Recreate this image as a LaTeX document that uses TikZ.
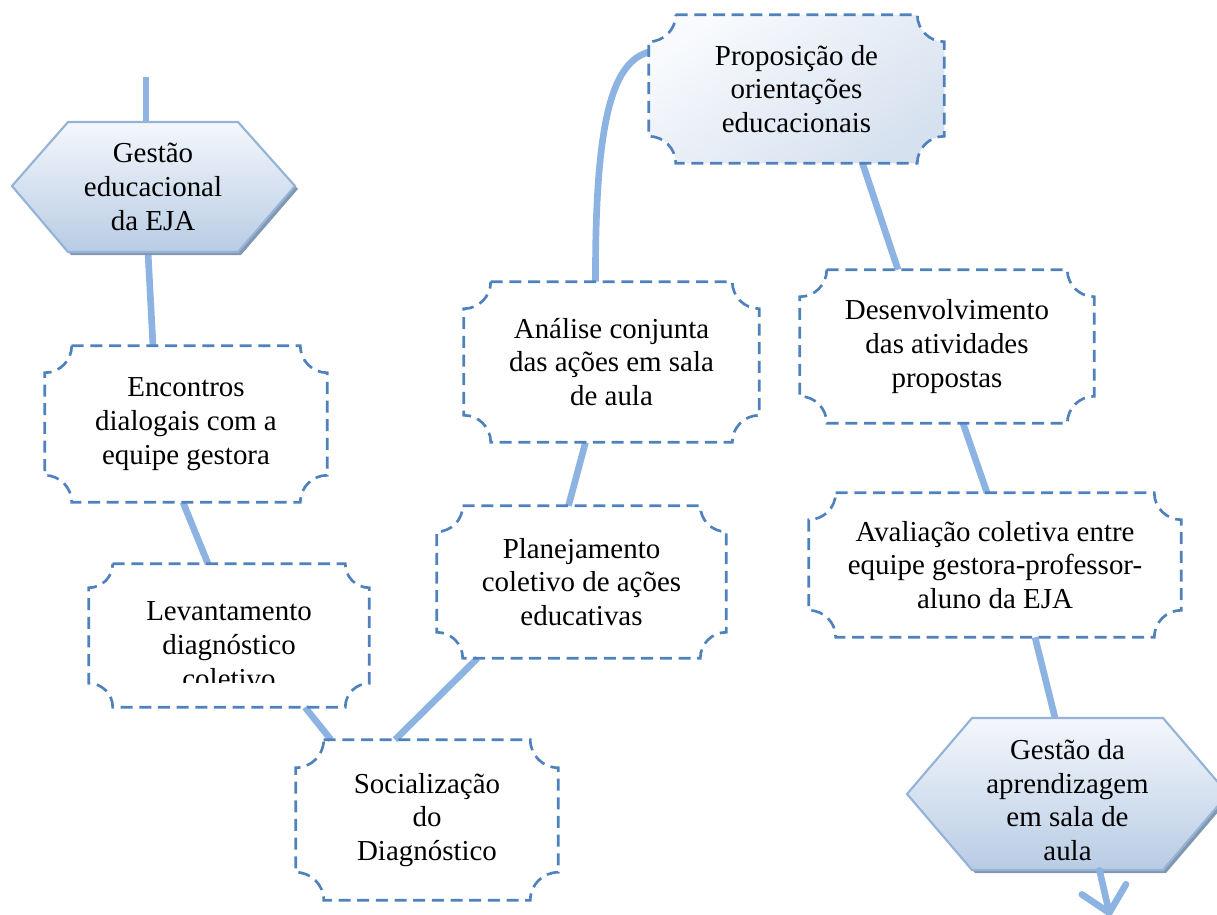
\documentclass[tikz,border=0pt]{standalone}
\usepackage{fontspec}
\setmainfont{Liberation Serif}
\usetikzlibrary{calc,arrows.meta}
\pgfdeclarelayer{background}
\pgfsetlayers{background,main}
\definecolor{dashblue}{HTML}{4F81BD}
\definecolor{conn}{HTML}{8DB3E2}
\definecolor{hexborder}{HTML}{95B3D7}
\definecolor{hextop}{HTML}{F4F7FC}
\definecolor{hexbot}{HTML}{B8CCE4}
\definecolor{hexshadow}{HTML}{8497B0}
\definecolor{proptop}{HTML}{F8FAFD}
\definecolor{propbot}{HTML}{D6E1EF}
\tikzset{
  txt/.style={align=center, text=black, font={\fontsize{21.7pt}{25.3pt}\selectfont}, inner sep=0pt},
  boxnode/.style={txt, rectangle, draw=none},
  plaqueline/.style={draw=dashblue, line width=2pt, dash pattern=on 9pt off 5pt},
  connector/.style={draw=conn, line width=5pt},
  hexline/.style={draw=hexborder, line width=1.6pt, top color=hextop, bottom color=hexbot},
  hexshad/.style={fill=hexshadow, draw=none}
}
% plaque border around a named rectangular node, corner radius #2 (px)
\newcommand\plaqpath[3]{%
  \path[#3] ($(#1.north west)+(#2,0)$) -- ($(#1.north east)+(-#2,0)$)
   .. controls ($(#1.north east)+(-#2,0.552*#2)$) and ($(#1.north east)+(-0.552*#2,#2)$) .. ($(#1.north east)+(0,#2)$)
   -- ($(#1.south east)+(0,-#2)$)
   .. controls ($(#1.south east)+(-0.552*#2,-#2)$) and ($(#1.south east)+(-#2,-0.552*#2)$) .. ($(#1.south east)+(-#2,0)$)
   -- ($(#1.south west)+(#2,0)$)
   .. controls ($(#1.south west)+(#2,-0.552*#2)$) and ($(#1.south west)+(0.552*#2,-#2)$) .. ($(#1.south west)+(0,-#2)$)
   -- ($(#1.north west)+(0,#2)$)
   .. controls ($(#1.north west)+(0.552*#2,#2)$) and ($(#1.north west)+(#2,0.552*#2)$) .. cycle;
}
% name, x0, y0, x1, y1, text
\newcommand\pbox[6]{%
  \node[boxnode, minimum width={(#4-#2)*0.75pt}, minimum height={(#5-#3)*0.75pt}] (#1) at ({(#2+#4)/2},{(#3+#5)/2}) {#6};
}
\begin{document}
\begin{tikzpicture}[x=0.75pt,y=-0.75pt]
\useasboundingbox (0,0) rectangle (1217,914);
\clip (0,0) rectangle (1217,914);

% ---- hexagon 1
\fill[hexshad] (15,189) -- (71,125) -- (241,125) -- (298,189) -- (241,255) -- (71,255) -- cycle;
\path[hexline] (12,186) -- (68,122) -- (238,122) -- (295,186) -- (238,252) -- (68,252) -- cycle;
\node[boxnode, minimum width={(238-68)*0.75pt}, minimum height={(252-122)*0.75pt}] (hexA) at (153,187) {Gestão\\educacional\\da EJA};

% ---- hexagon 2
\fill[hexshad] (910,797) -- (975,721) -- (1166,721) -- (1231,797) -- (1166,873) -- (975,873) -- cycle;
\path[hexline] (907,794) -- (972,718) -- (1163,718) -- (1228,794) -- (1163,870) -- (972,870) -- cycle;
\node[boxnode, minimum width={(1163-972)*0.75pt}, minimum height={(870-718)*0.75pt}] (hexB) at (1067.5,794) {};
\node[txt] (hexBtxt) at (1067.5,800) {Gestão da\\aprendizagem\\em sala de\\aula};

% ---- plaque boxes
\pbox{enc}{45}{346}{327}{502}{Encontros\\dialogais com a\\equipe gestora}
\plaqpath{enc}{27}{plaqueline}

\pbox{lev}{89}{564}{369}{707}{}
\plaqpath{lev}{24}{plaqueline}
\begin{scope}
  \clip (89,564) rectangle (369,682.5);
  \node[txt] (levtxt) at (229,645) {Levantamento\\diagnóstico\\coletivo};
\end{scope}

\pbox{soc}{296}{740}{558}{900}{Socialização\\do\\Diagnóstico}
\plaqpath{soc}{28}{plaqueline}

\pbox{pla}{437}{506}{726}{658}{Planejamento\\coletivo de ações\\educativas}
\plaqpath{pla}{26}{plaqueline}

\pbox{ana}{464}{282}{759}{442}{Análise conjunta\\das ações em sala\\de aula}
\plaqpath{ana}{27}{plaqueline}

\pbox{prop}{649}{15}{944}{163}{Proposição de\\orientações\\educacionais}
\begin{pgfonlayer}{background}
\plaqpath{prop}{27}{top color=proptop, bottom color=propbot, shading angle=35}
\end{pgfonlayer}
\plaqpath{prop}{27}{plaqueline}

\pbox{des}{800}{270}{1094}{423}{Desenvolvimento\\das atividades\\propostas}
\plaqpath{des}{27}{plaqueline}

\pbox{ava}{809}{493}{1181}{637}{Avaliação coletiva entre\\equipe gestora-professor-\\aluno da EJA}
\plaqpath{ava}{27}{plaqueline}

\coordinate (start) at (146,77);
\coordinate (endtip) at (1110,916);

% ---- connectors
\begin{pgfonlayer}{background}
\draw[connector] (start) -- (hexA.north -| start);
\draw[connector] ([xshift=-5*0.75pt]hexA.south) -- ([xshift=-33*0.75pt]enc.north);
\draw[connector] ([xshift=-3*0.75pt]enc.south) -- ([xshift=-21*0.75pt]lev.north);
\draw[connector] ([xshift=76*0.75pt]lev.south) -- ([xshift=-96*0.75pt]soc.north);
\draw[connector] ([xshift=-32*0.75pt]soc.north) -- ([xshift=-104*0.75pt]pla.south);
\draw[connector] ([xshift=-13*0.75pt]pla.north) -- ([xshift=-26*0.75pt]ana.south);
\draw[connector] ([xshift=-16*0.75pt]ana.north) .. controls (595,110) and (615,62) .. ([yshift=37*0.75pt]prop.west);
\draw[connector] ([xshift=66*0.75pt]prop.south) -- ([xshift=-49*0.75pt]des.north);
\draw[connector] ([xshift=16*0.75pt]des.south) -- ([xshift=-8*0.75pt]ava.north);
\draw[connector] ([xshift=40*0.75pt]ava.south) -- ([xshift=-12.5*0.75pt]hexB.north);
\end{pgfonlayer}
\draw[connector, line cap=round, -{Straight Barb[length=18pt, width=34pt, round]}] ([xshift=32*0.75pt]hexB.south) -- (endtip);
\end{tikzpicture}
\end{document}
